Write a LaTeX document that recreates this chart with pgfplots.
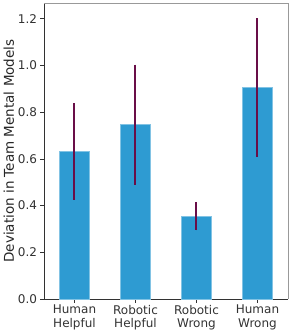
\documentclass[border=0pt]{standalone}
\usepackage{pgfplots}
\pgfplotsset{compat=1.18}
\usepackage{fontspec}
\setmainfont{DejaVu Sans}
\definecolor{barblue}{RGB}{46,155,210}
\definecolor{errpurple}{RGB}{105,14,72}
\definecolor{spinedark}{RGB}{50,50,50}
\begin{document}
\begin{tikzpicture}
\begin{axis}[
  scale only axis,
  width=244pt, height=296pt,
  xmin=-0.5, xmax=3.5,
  ymin=0, ymax=1.268,
  axis lines=left,
  axis line style={spinedark, line width=0.8pt, -},
  xtick={0,1,2,3},
  xticklabels={{Human\\Helpful},{Robotic\\Helpful},{Robotic\\Wrong},{Human\\Wrong}},
  xticklabel style={align=center, font=\fontsize{12}{13.5}\selectfont, text=spinedark, yshift=1pt},
  ytick={0,0.2,0.4,0.6,0.8,1.0,1.2},
  yticklabel style={font=\fontsize{12}{13}\selectfont, text=spinedark,
    /pgf/number format/.cd, fixed, fixed zerofill, precision=1},
  /pgf/number format/assume math mode=true,
  tick align=outside,
  tick style={spinedark, line width=0.8pt},
  major tick length=3.5pt,
  ylabel={Deviation in Team Mental Models},
  ylabel style={font=\fontsize{13.5}{15}\selectfont, text=black!85},
  ylabel shift=-3pt,
  clip=false,
]
\addplot[ybar, bar width=30pt, fill=barblue, draw=barblue!60!white, line width=0.5pt,
  error bars/.cd, y dir=both, y explicit,
  error bar style={errpurple, line width=2pt}, error mark=none]
  coordinates {
    (0,0.632) +- (0,0.206)
    (1,0.747) +- (0,0.257)
    (2,0.355) +- (0,0.061)
    (3,0.906) +- (0,0.297)
  };
\draw[gray!80, line width=0.8pt] (rel axis cs:0,1) -- (rel axis cs:1,1) -- (rel axis cs:1,0);
\coordinate (bl) at (rel axis cs:0,0);
\coordinate (tr) at (rel axis cs:1,1);
\end{axis}
\pgfresetboundingbox
\path ([xshift=-44pt,yshift=-33pt]bl) rectangle ([xshift=3pt,yshift=3pt]tr);
\end{tikzpicture}
\end{document}
